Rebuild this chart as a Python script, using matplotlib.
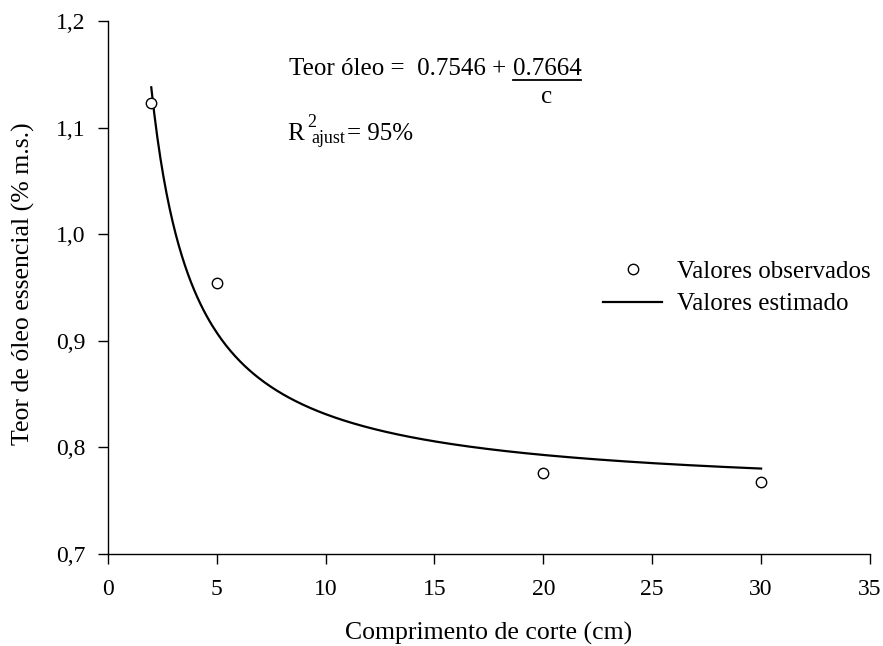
import matplotlib
matplotlib.use("Agg")
import matplotlib.pyplot as plt
import numpy as np
from matplotlib.lines import Line2D

plt.rcParams['font.family'] = ['Liberation Serif', 'DejaVu Serif']

# Data
obs_x = [2, 5, 20, 30]
obs_y = [1.123, 0.954, 0.776, 0.768]
coef_a = 0.7546
coef_b = 0.7664
x_ticks = [0, 5, 10, 15, 20, 25, 30, 35]
y_ticks = [0.7, 0.8, 0.9, 1.0, 1.1, 1.2]
y_tick_labels = ["0,7", "0,8", "0,9", "1,0", "1,1", "1,2"]

W, H = 883, 646
fig = plt.figure(figsize=(W/100, H/100), dpi=100)
ax = fig.add_axes([107.7/W, 1-554/H, (870-107.7)/W, (554-21)/H])

cx = np.linspace(2, 30, 400)
cy = coef_a + coef_b / cx
ax.plot(obs_x, obs_y, 'o', mfc='white', mec='black', ms=7.5, mew=1.0,
        label='Valores observados', zorder=3)
ax.plot(cx, cy, '-', color='black', lw=1.6, label='Valores estimado', zorder=2)

ax.set_xlim(0, 35)
ax.set_ylim(0.7, 1.2)
ax.set_xticks(x_ticks)
ax.set_yticks(y_ticks)
ax.set_yticklabels(y_tick_labels)
for s in ['top', 'right']:
    ax.spines[s].set_visible(False)
for s in ['left', 'bottom']:
    ax.spines[s].set_linewidth(1.0)
ax.tick_params(direction='out', length=7, width=1.0, labelsize=17)
ax.tick_params(axis='x', pad=11)
ax.tick_params(axis='y', pad=9)

ax.set_xlabel('Comprimento de corte (cm)', fontsize=18.5)
ax.xaxis.set_label_coords(0.5, -0.128)
ax.set_ylabel('Teor de óleo essencial (% m.s.)', fontsize=18.5)
ax.yaxis.set_label_coords(-0.095, 0.508)

# Equation
t1 = fig.text(289/W, 1-75/H, 'Teor óleo =  0.7546 + ', fontsize=18, ha='left', va='baseline')
fig.canvas.draw()
r = fig.canvas.get_renderer()
bb = t1.get_window_extent(r)
t2 = fig.text(bb.x1/W, 1-75/H, '0.7664', fontsize=18, ha='left', va='baseline')
fig.canvas.draw()
bb2 = t2.get_window_extent(r)
ul_y = (H-79.5)/H
fig.add_artist(Line2D([bb2.x0/W, bb2.x1/W], [ul_y, ul_y], color='black', lw=1.3,
                      transform=fig.transFigure))
fig.text((bb2.x0+bb2.x1)/2/W, 1-103/H, 'c', fontsize=18, ha='center', va='baseline')

fig.text(287/W, 1-140/H, 'R', fontsize=18, ha='left', va='baseline')
fig.text(307/W, 1-127/H, '2', fontsize=13, ha='left', va='baseline')
fig.text(311/W, 1-143/H, 'ajust', fontsize=13, ha='left', va='baseline')
fig.text(347/W, 1-140/H, '= 95%', fontsize=18, ha='left', va='baseline')

leg = ax.legend(loc='upper left', bbox_to_anchor=(603/W, 1-260/H),
                bbox_transform=fig.transFigure, frameon=False, fontsize=18,
                handlelength=2.36, handletextpad=0.6, labelspacing=0.42,
                borderpad=0, borderaxespad=0)

fig.savefig('out.png', dpi=100)
